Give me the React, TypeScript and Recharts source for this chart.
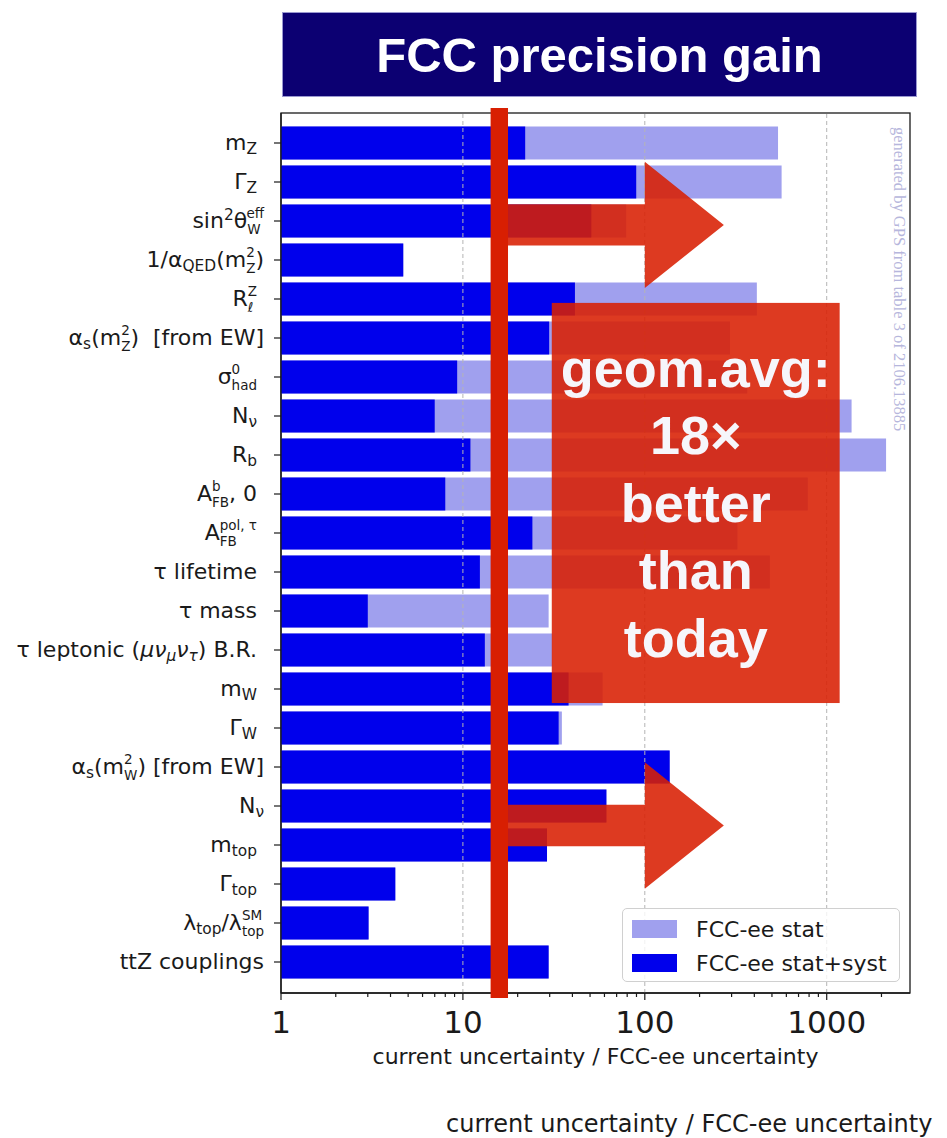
import React from "react";
import {
  BarChart,
  Bar,
  XAxis,
  YAxis,
  ReferenceLine,
  ReferenceArea,
  Legend,
} from "recharts";

// observables, top to bottom
const ids = [
  "mZ", "GammaZ", "sin2", "alphaQED", "Rl", "alphaSZ", "sigmaHad", "Nnu",
  "Rb", "AFBb", "AFBpol", "tauLife", "tauMass", "tauLep", "mW", "GammaW",
  "alphaSW", "Nnu2", "mtop", "GammaTop", "lambdaTop", "ttZ",
];

// current uncertainty / FCC-ee uncertainty, statistics only
const statGain = [
  540, 565, 79, 4.7, 413, 294, 366, 1370, 2120, 787, 323, 487, 29.6, 31,
  58.6, 35, 137, 61.5, 29, 4.25, 3.03, 29.6,
];
// same ratio with systematics included
const systGain = [
  22, 89.7, 50.8, 4.7, 41.3, 29.8, 9.3, 7.0, 11, 8.0, 24.1, 12.4, 3.0, 13.2,
  38.1, 33.6, 137, 61.5, 29, 4.25, 3.03, 29.6,
];

type Part = { t?: string; sub?: string; sup?: string; it?: boolean };
const SP = "\u00a0";

// axis labels in mathtext style
const labels: Part[][] = [
  [{ t: "m", sub: "Z" }, { t: SP }],
  [{ t: "Γ", sub: "Z" }, { t: SP }],
  [{ t: "sin", sup: "2" }, { t: "θ", sub: "W", sup: "eff" }],
  [{ t: "1/α", sub: "QED" }, { t: "(m", sub: "Z", sup: "2" }, { t: ")" }],
  [{ t: "R", sub: "ℓ", sup: "Z" }, { t: SP }],
  [{ t: "α", sub: "s" }, { t: "(m", sub: "Z", sup: "2" }, { t: ")" + SP + " [from EW]" }],
  [{ t: "σ", sub: "had", sup: "0" }, { t: SP }],
  [{ t: "N", sub: "ν" }, { t: SP }],
  [{ t: "R", sub: "b" }, { t: SP }],
  [{ t: "A", sub: "FB", sup: "b" }, { t: ", 0" + SP }],
  [{ t: "A", sub: "FB", sup: "pol, τ" }, { t: SP }],
  [{ t: "τ lifetime" + SP }],
  [{ t: "τ mass" + SP }],
  [{ t: "τ leptonic (" }, { t: "μν", sub: "μ", it: true }, { t: "ν", sub: "τ", it: true }, { t: ") B.R." + SP }],
  [{ t: "m", sub: "W" }, { t: SP }],
  [{ t: "Γ", sub: "W" }, { t: SP }],
  [{ t: "α", sub: "s" }, { t: "(m", sub: "W", sup: "2" }, { t: ") [from EW]" }],
  [{ t: "N", sub: "ν" }],
  [{ t: "m", sub: "top" }, { t: SP }],
  [{ t: "Γ", sub: "top" }, { t: SP }],
  [{ t: "λ", sub: "top" }, { t: "/λ", sub: "top", sup: "SM" }],
  [{ t: "ttZ couplings" }],
];

const xMajor = [1, 10, 100, 1000];
const xMinor = [
  2, 3, 4, 5, 6, 7, 8, 9, 20, 30, 40, 50, 60, 70, 80, 90,
  200, 300, 400, 500, 600, 700, 800, 900, 2000,
];
const xMax = 2870;

// slide annotations
const avgBand = [14.2, 17.7];
const arrowFrom = 15.7;
const arrowHead = 100;
const arrowTip = 272;
const boxRange = [30.8, 1178];
const boxLines = ["geom.avg:", "18×", "better", "than", "today"];

const data = ids.map((id, i) => ({ id, stat: statGain[i], syst: systGain[i] }));

const FONT = '"DejaVu Sans", Verdana, sans-serif';
const BOLD = '"Liberation Sans", Arial, Helvetica, sans-serif';
const RED = "#d81f02";
const LIGHT = "#a0a0ee";
const DARK = "#0000ec";
const INK = "#1a1a1a";

const W = 947;
const H = 1138;
const MARGIN = { top: 113, right: 37, bottom: 65, left: 0 };
const YPAD = { top: 10.5, bottom: 11.5 };

// rough DejaVu Sans advance widths (em), only used to stack sub/superscripts
const charW: Record<string, number> = {
  "0": 0.636, "2": 0.636, Z: 0.685, W: 0.989, b: 0.635, e: 0.615, f: 0.352,
  "ℓ": 0.42, h: 0.634, a: 0.613, d: 0.635, F: 0.575, B: 0.686, p: 0.635,
  o: 0.612, l: 0.278, ",": 0.318, " ": 0.318, "τ": 0.55, t: 0.392, S: 0.635,
  M: 0.863, Q: 0.787, E: 0.632, D: 0.77, s: 0.521, "μ": 0.636, "ν": 0.59,
};
const textW = (s: string, size: number) =>
  [...s].reduce((w, c) => w + (charW[c] ?? 0.6), 0) * size;

function RichLabel({ x, y, parts }: { x: number; y: number; parts: Part[] }) {
  let base = 0;
  const shift = (to: number) => {
    const d = to - base;
    base = to;
    return d;
  };
  const spans: React.ReactNode[] = [];
  parts.forEach((p, i) => {
    const fs = p.it ? "italic" : "normal";
    if (p.t) {
      spans.push(
        <tspan key={`${i}t`} dy={shift(0)} fontStyle={fs}>
          {p.t}
        </tspan>
      );
    }
    const stacked = !!(p.sub && p.sup);
    // stacked scripts are a bit smaller so the two rows clear each other
    const small = stacked ? 13.5 : 15.4;
    const scripts: { s: string; off: number }[] = [];
    if (p.sub) scripts.push({ s: p.sub, off: stacked ? 6 : 4 });
    if (p.sup) scripts.push({ s: p.sup, off: stacked ? -10.5 : -8 });
    // shorter script first, the longer one is drawn back over it
    scripts.sort((a, b) => textW(a.s, small) - textW(b.s, small));
    scripts.forEach((sc, j) => {
      spans.push(
        <tspan
          key={`${i}s${j}`}
          dx={j === 1 ? -textW(scripts[0].s, small) : 0}
          dy={shift(sc.off)}
          fontSize={small}
          fontStyle={fs}
        >
          {sc.s}
        </tspan>
      );
    });
  });
  return (
    <text x={x} y={y} textAnchor="end" fontFamily={FONT} fontSize={22} fill={INK}>
      {spans}
    </text>
  );
}

const YTick = (props: any) => {
  const { x, y, payload } = props;
  const idx = ids.indexOf(payload.value);
  return <RichLabel x={x} y={y + 7} parts={labels[idx] ?? []} />;
};

const XTick = (props: any) => {
  const { x, y, payload } = props;
  const major = xMajor.includes(payload.value);
  return (
    <g>
      <line x1={x} x2={x} y1={y} y2={y + (major ? 7 : 4)} stroke={INK} strokeWidth={1.2} />
      {major && (
        <text x={x} y={y + 40} textAnchor="middle" fontFamily={FONT} fontSize={31} fill={INK}>
          {payload.value}
        </text>
      )}
    </g>
  );
};

const arrowShape = (rows: number, lift: number) => (props: any) => {
  const { x, y, width, height } = props;
  const unit = height / rows;
  const cy = y + height / 2 + lift * unit;
  const hx = x + (width * Math.log(arrowHead / arrowFrom)) / Math.log(arrowTip / arrowFrom);
  const sh = 0.53 * unit;
  const hd = 1.62 * unit;
  const pts = [
    [x, cy - sh], [hx, cy - sh], [hx, cy - hd], [x + width, cy],
    [hx, cy + hd], [hx, cy + sh], [x, cy + sh],
  ];
  return <polygon points={pts.map((p) => p.join(",")).join(" ")} fill={RED} fillOpacity={0.88} />;
};

const boxShape = (props: any) => {
  const { x, y, width, height } = props;
  const unit = height / 11;
  const top = y + 0.6 * unit;
  const bottom = y + height - 0.14 * unit;
  const cx = x + width / 2;
  const cy = (top + bottom) / 2;
  return (
    <g>
      <rect x={x} y={top} width={width} height={bottom - top} fill={RED} fillOpacity={0.88} />
      <text textAnchor="middle" fontFamily={BOLD} fontWeight="bold" fontSize={54} fill="#f6f6fb">
        {boxLines.map((l, i) => (
          <tspan key={l} x={cx} y={cy + (i - 2) * 67.5 + 19}>
            {l}
          </tspan>
        ))}
      </text>
    </g>
  );
};

// thick red marker, reaching a little past the padded band range
const bandShape = (props: any) => {
  const { x, y, width, height } = props;
  return <rect x={x} y={y - 15.5} width={width} height={height + 32} fill={RED} />;
};

// axes box: the area spans the padded category range, so grow it back to the plot edges
const frameShape = (props: any) => {
  const { x, y, width, height } = props;
  return (
    <rect
      x={x}
      y={y - YPAD.top}
      width={width}
      height={height + YPAD.top + YPAD.bottom}
      fill="none"
      stroke={INK}
      strokeWidth={1.3}
    />
  );
};

const LegendBox = (props: any) => {
  const items = props.payload ?? [];
  return (
    <div
      style={{
        width: 278,
        height: 74,
        boxSizing: "border-box",
        border: "1px solid #d0d0d0",
        borderRadius: 5,
        background: "rgba(255,255,255,0.8)",
        position: "relative",
        fontFamily: FONT,
        fontSize: 22,
        color: INK,
      }}
    >
      {items.map((it: any, i: number) => (
        <div
          key={it.value}
          style={{ position: "absolute", left: 9, top: 6 + i * 34, height: 28, display: "flex", alignItems: "center" }}
        >
          <span style={{ width: 45, height: 18, background: it.color, display: "inline-block" }} />
          <span style={{ marginLeft: 19, whiteSpace: "nowrap" }}>{it.value}</span>
        </div>
      ))}
    </div>
  );
};

export default function App() {
  return (
    <div style={{ position: "absolute", left: 0, top: 0, width: W, height: H, background: "#fff" }}>
      <div
        style={{
          position: "absolute",
          left: 282,
          top: 12,
          width: 635,
          height: 85,
          boxSizing: "border-box",
          background: "#0c0072",
          border: "1px solid #9a98d0",
          color: "#fff",
          fontFamily: BOLD,
          fontWeight: "bold",
          fontSize: 49,
          display: "flex",
          alignItems: "center",
          justifyContent: "center",
        }}
      >
        FCC precision gain
      </div>

      {/* the chart itself */}
      <div style={{ position: "absolute", left: 0, top: 0 }}>
        <BarChart width={W} height={H} data={data} layout="vertical" margin={MARGIN} barGap={-33}>
          <XAxis
            type="number"
            scale="log"
            domain={[1, xMax]}
            allowDataOverflow
            ticks={[...xMajor, ...xMinor]}
            interval={0}
            tick={<XTick />}
            tickLine={false}
            tickSize={0}
            tickMargin={0}
            height={80}
            axisLine={{ stroke: INK, strokeWidth: 1.3 }}
            label={{
              value: "current uncertainty / FCC-ee uncertainty",
              position: "insideBottom",
              offset: 9,
              fontFamily: FONT,
              fontSize: 22,
              fill: INK,
            }}
          />
          <YAxis
            type="category"
            dataKey="id"
            width={281}
            interval={0}
            tick={<YTick />}
            tickSize={7}
            tickMargin={10}
            tickLine={{ stroke: INK, strokeWidth: 1.2 }}
            axisLine={{ stroke: INK, strokeWidth: 1.3 }}
            padding={YPAD}
          />
          <ReferenceArea x1={1} x2={xMax} shape={frameShape} ifOverflow="visible" />
          <Bar dataKey="stat" name="FCC-ee stat" fill={LIGHT} barSize={33} isAnimationActive={false} />
          <Bar dataKey="syst" name="FCC-ee stat+syst" fill={DARK} barSize={33} isAnimationActive={false} />

          {xMajor.slice(1).map((v) => (
            <ReferenceLine key={v} x={v} stroke="#b4b4b4" strokeWidth={1} strokeDasharray="4 3" />
          ))}

          <Legend
            layout="vertical"
            align="center"
            verticalAlign="middle"
            content={<LegendBox />}
            wrapperStyle={{ left: 622, top: 908, width: 278, right: "auto", bottom: "auto" }}
          />
        </BarChart>
      </div>

      {/* annotation layer on the same axes, drawn over the bars */}
      <div style={{ position: "absolute", left: 0, top: 0, pointerEvents: "none" }}>
        <BarChart width={W} height={H} data={data} layout="vertical" margin={MARGIN}>
          <XAxis
            type="number"
            scale="log"
            domain={[1, xMax]}
            allowDataOverflow
            height={80}
            tick={false}
            tickLine={false}
            axisLine={false}
          />
          <YAxis
            type="category"
            dataKey="id"
            width={281}
            tick={false}
            tickLine={false}
            axisLine={false}
            padding={YPAD}
          />
          <Bar dataKey="syst" fill="none" barSize={33} isAnimationActive={false} />
          <ReferenceArea x1={boxRange[0]} x2={boxRange[1]} y1="Rl" y2="mW" shape={boxShape} ifOverflow="visible" />
          <ReferenceArea x1={arrowFrom} x2={arrowTip} y1="sin2" y2="sin2" shape={arrowShape(1, 0.1)} ifOverflow="visible" />
          <ReferenceArea x1={arrowFrom} x2={arrowTip} y1="Nnu2" y2="mtop" shape={arrowShape(2, 0)} ifOverflow="visible" />
          <ReferenceArea x1={avgBand[0]} x2={avgBand[1]} shape={bandShape} ifOverflow="visible" />
        </BarChart>
      </div>

      <div
        style={{
          position: "absolute",
          left: 891,
          top: 127,
          writingMode: "vertical-rl",
          fontFamily: '"Liberation Serif", "DejaVu Serif", serif',
          fontSize: 16.5,
          lineHeight: "16px",
          color: "#b6b6dc",
          whiteSpace: "nowrap",
        }}
      >
        generated by GPS from table 3 of 2106.13885
      </div>

      <div
        style={{
          position: "absolute",
          left: 446,
          top: 1110,
          fontFamily: FONT,
          fontSize: 24,
          lineHeight: "28px",
          color: INK,
          whiteSpace: "nowrap",
        }}
      >
        current uncertainty / FCC-ee uncertainty
      </div>
    </div>
  );
}
